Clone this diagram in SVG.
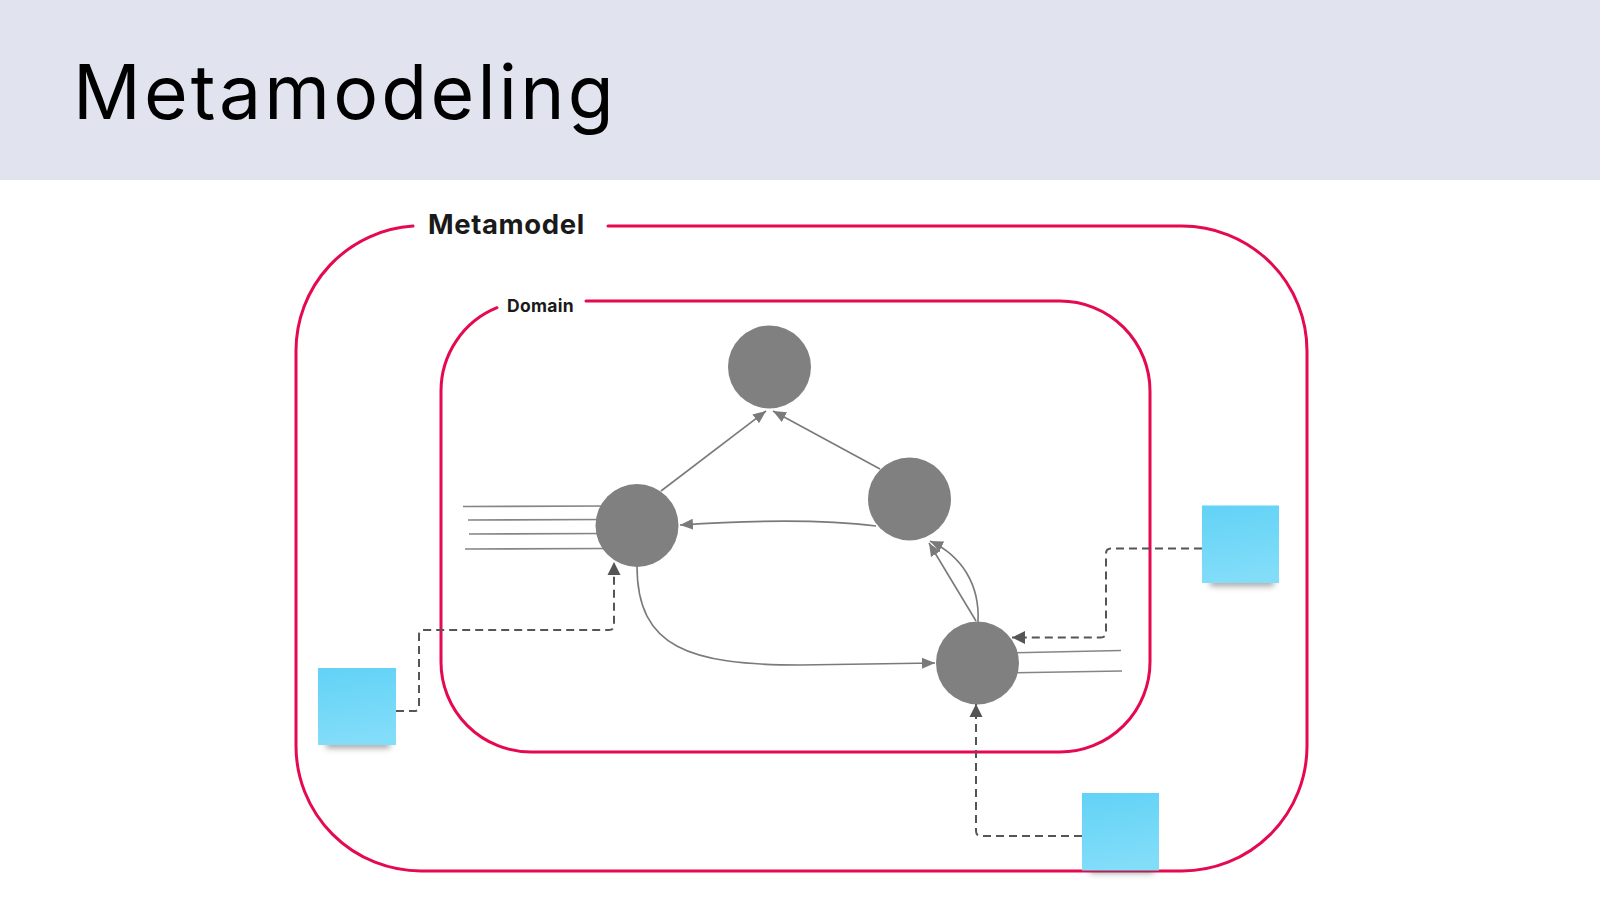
<svg xmlns="http://www.w3.org/2000/svg" width="1600" height="900" viewBox="0 0 1600 900">
<defs>
<style>
.frame{fill:none;stroke:#e5094f;stroke-width:3;stroke-linecap:round}
.lbl{font-family:Inter,"Liberation Sans",sans-serif;font-weight:700;fill:#1a1a1a}
.node{fill:#808080}
.edge{fill:none;stroke:#7a7a7a;stroke-width:1.6}
.stub{fill:none;stroke:#858585;stroke-width:1.6}
.dash{fill:none;stroke:#555;stroke-width:2;stroke-dasharray:8 5}
.sticky{fill:url(#stickyGrad)}
</style>
<linearGradient id="stickyGrad" x1="0" y1="0" x2="0.15" y2="1">
<stop offset="0" stop-color="#62d2f6"/>
<stop offset="1" stop-color="#82ddf9"/>
</linearGradient>
<filter id="shadow" x="-30%" y="-100%" width="160%" height="300%">
<feGaussianBlur stdDeviation="3"/>
</filter>
<marker id="arr" markerUnits="userSpaceOnUse" markerWidth="14" markerHeight="12" refX="13" refY="6" orient="auto">
<path d="M0,0.5 L13,6 L0,11.5 z" fill="#7a7a7a"/>
</marker>
<marker id="darr" markerUnits="userSpaceOnUse" markerWidth="14" markerHeight="14" refX="13" refY="7" orient="auto">
<path d="M0,0.5 L13,7 L0,13.5 z" fill="#555"/>
</marker>
</defs>

<rect x="0" y="0" width="1600" height="900" fill="#ffffff"/>
<rect x="0" y="0" width="1600" height="180" fill="#e1e4ee"/>
<text x="73" y="119" font-family="Inter,'Liberation Sans',sans-serif" font-size="75" font-weight="400" letter-spacing="3.2" fill="#000">Metamodeling</text>

<g id="metamodel">
<path class="frame" d="M608,226 H1182 A125,125 0 0 1 1307,351 V746 A125,125 0 0 1 1182,871 H421 A125,125 0 0 1 296,746 V351 A125,125 0 0 1 413,226.1"/>
<text class="lbl" x="428" y="234" font-size="27.5" letter-spacing="0.6">Metamodel</text>
</g>

<g id="domain">
<path class="frame" d="M586,301 H1060 A90,90 0 0 1 1150,391 V662 A90,90 0 0 1 1060,752 H531 A90,90 0 0 1 441,662 V391 A90,90 0 0 1 497,307.7"/>
<text class="lbl" x="507" y="312" font-size="17.5" letter-spacing="0.3">Domain</text>
</g>

<g id="stubs">
<line class="stub" x1="463" y1="506.5" x2="605" y2="506"/>
<line class="stub" x1="468" y1="520" x2="605" y2="519.5"/>
<line class="stub" x1="469" y1="534" x2="605" y2="533.5"/>
<line class="stub" x1="465" y1="549" x2="605" y2="548.5"/>
<line class="stub" x1="1005" y1="653" x2="1121" y2="650.5"/>
<line class="stub" x1="1005" y1="673" x2="1122" y2="671"/>
</g>

<g id="connectors">
<path class="edge" d="M661,491 L766,411" marker-end="url(#arr)"/>
<path class="edge" d="M880,469 L773,411" marker-end="url(#arr)"/>
<path class="edge" d="M876,526 C820,519 740,521 680,525" marker-end="url(#arr)"/>
<path class="edge" d="M637,566 C637,648 690,665 800,665 L935,663" marker-end="url(#arr)"/>
<path class="edge" d="M976,621 L929,543" marker-end="url(#arr)"/>
<path class="edge" d="M978,622 C980,585 962,556 930,541" marker-end="url(#arr)"/>
<path class="dash" d="M396,711 H414 Q419,711 419,706 V635 Q419,630 424,630 H609 Q614,630 614,625 V562" marker-end="url(#darr)"/>
<path class="dash" d="M1202,548.5 H1111 Q1106,548.5 1106,553.5 V632.5 Q1106,637.5 1101,637.5 H1012" marker-end="url(#darr)"/>
<path class="dash" d="M1082,836 H981 Q976,836 976,831 V704" marker-end="url(#darr)"/>
</g>

<g id="node-top"><circle class="node" cx="769.5" cy="367" r="41.5"/></g>
<g id="node-left"><circle class="node" cx="637" cy="525.5" r="41.5"/></g>
<g id="node-right"><circle class="node" cx="909.5" cy="499" r="41.5"/></g>
<g id="node-bottom"><circle class="node" cx="977.5" cy="663" r="41.5"/></g>

<g id="sticky-left">
<rect x="326" y="740" width="64" height="8" fill="#555" opacity="0.55" filter="url(#shadow)"/>
<rect class="sticky" x="318" y="668" width="78" height="77"/>
</g>
<g id="sticky-right">
<rect x="1210" y="578" width="64" height="8" fill="#555" opacity="0.55" filter="url(#shadow)"/>
<rect class="sticky" x="1202" y="505.5" width="77" height="77.5"/>
</g>
<g id="sticky-bottom">
<rect x="1090" y="865" width="64" height="8" fill="#555" opacity="0.55" filter="url(#shadow)"/>
<rect class="sticky" x="1082" y="793" width="77" height="77.5"/>
</g>
</svg>
